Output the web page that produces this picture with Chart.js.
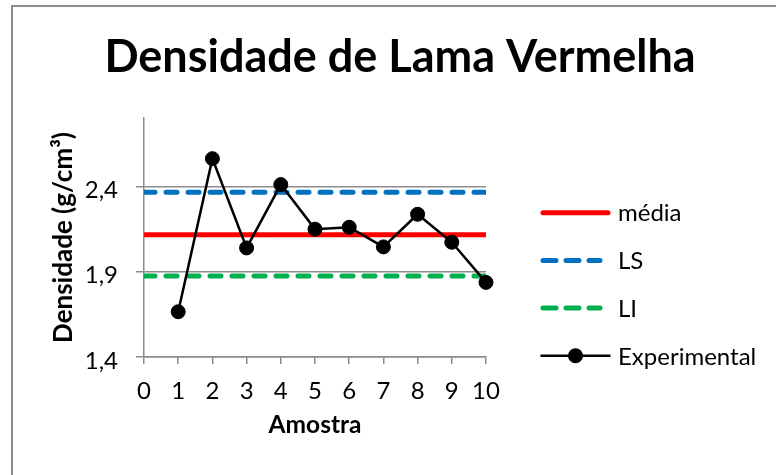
<!DOCTYPE html>
<html><head><meta charset="utf-8">
<script src="https://cdn.jsdelivr.net/npm/chart.js@4.4.1/dist/chart.umd.min.js"></script>
<style>
html,body{margin:0;padding:0;background:#fff;}
#wrap{position:relative;width:776px;height:475px;overflow:hidden;}
#frame{position:absolute;left:11px;top:5px;width:800px;height:500px;border-top:2px solid #8c8c8c;border-left:2px solid #8c8c8c;pointer-events:none;}
canvas{position:absolute;left:0;top:0;}
</style></head><body>
<div id="wrap"><canvas id="c" width="776" height="475"></canvas><div id="frame"></div></div>
<script>
const chartTitle = 'Densidade de Lama Vermelha';
const xAxisTitle = 'Amostra';
const yAxisTitle = 'Densidade (g/cm³)';
const amostras = [1, 2, 3, 4, 5, 6, 7, 8, 9, 10];
const experimental = [1.665, 2.562, 2.039, 2.41, 2.149, 2.16, 2.045, 2.236, 2.072, 1.837];
const limitX = [0, 10];
const media = [2.116, 2.116];
const ls = [2.365, 2.365];
const li = [1.874, 1.874];
const xTicks = [0, 1, 2, 3, 4, 5, 6, 7, 8, 9, 10];
const yTicks = [1.4, 1.9, 2.4];
const legendLabels = ['média', 'LS', 'LI', 'Experimental'];

const FONT = 'Lato';
const GRAY = '#8c8c8c';

const pts = (xs, ys) => xs.map((x, i) => ({x: x, y: ys[i]}));

const datasets = [
  {label: legendLabels[3], data: pts(amostras, experimental), borderColor: '#000', backgroundColor: '#000',
   borderWidth: 2.5, pointRadius: 7, pointBorderWidth: 1, pointBackgroundColor: '#000', pointBorderColor: '#000',
   order: 0, clip: false},
  {label: legendLabels[0], data: pts(limitX, media), borderColor: '#ff0000', borderWidth: 5, pointRadius: 0, order: 1},
  {label: legendLabels[1], data: pts(limitX, ls), borderColor: '#0070c0', borderWidth: 5, pointRadius: 0,
   borderDash: [11, 11], borderCapStyle: 'round', order: 2},
  {label: legendLabels[2], data: pts(limitX, li), borderColor: '#00b050', borderWidth: 5, pointRadius: 0,
   borderDash: [11, 11], borderCapStyle: 'round', order: 3}
];

const decor = {
  id: 'decor',
  afterDraw(chart) {
    const {ctx, chartArea: a} = chart;
    ctx.save();
    ctx.fillStyle = '#000';
    ctx.font = 'bold 45px ' + FONT;
    ctx.textAlign = 'center';
    ctx.textBaseline = 'alphabetic';
    ctx.fillText(chartTitle, 400, 72);

    const order = [1, 2, 3, 0];
    const x0 = a.right + 54.5, x1 = a.right + 124.5, tx = a.right + 132;
    order.forEach((di, k) => {
      const ds = chart.data.datasets[di];
      const y = a.top + 94.7 + k * 47.7;
      ctx.save();
      ctx.strokeStyle = ds.borderColor;
      ctx.lineWidth = ds.borderWidth;
      ctx.beginPath();
      if (ds.borderDash) {
        ctx.lineCap = 'round';
        ctx.setLineDash([13, 10]);
        ctx.moveTo(x0 + 2.5, y); ctx.lineTo(x0 + 59.5, y);
      } else if (di === 0) {
        ctx.moveTo(x0, y); ctx.lineTo(x1, y);
      } else {
        ctx.lineCap = 'round';
        ctx.moveTo(x0 + 2.5, y); ctx.lineTo(x1 - 2.5, y);
      }
      ctx.stroke();
      if (di === 0) {
        ctx.beginPath();
        ctx.arc((x0 + x1) / 2, y, 7.5, 0, Math.PI * 2);
        ctx.fillStyle = '#000';
        ctx.fill();
      }
      ctx.restore();
      ctx.fillStyle = '#000';
      ctx.font = '24px ' + FONT;
      ctx.textAlign = 'left';
      ctx.textBaseline = 'middle';
      ctx.fillText(ds.label, tx, y + 1);
    });
    ctx.restore();
  }
};

new Chart(document.getElementById('c'), {
  type: 'line',
  data: {datasets: datasets},
  plugins: [decor],
  options: {
    responsive: false,
    animation: false,
    devicePixelRatio: 1,
    layout: {padding: {left: 0, top: 118, right: 290, bottom: 0}},
    plugins: {legend: {display: false}, title: {display: false}, tooltip: {enabled: false}},
    scales: {
      x: {
        type: 'linear', min: 0, max: 10,
        afterBuildTicks: s => { s.ticks = xTicks.map(v => ({value: v})); },
        afterFit: s => { s.height = 118; },
        ticks: {color: '#000', font: {family: FONT, size: 24}, padding: 13, callback: v => String(v), maxRotation: 0, autoSkip: false},
        grid: {drawOnChartArea: false, drawTicks: true, tickLength: 7, color: GRAY, lineWidth: 1.5},
        border: {color: GRAY, width: 1.5},
        title: {display: true, text: xAxisTitle, color: '#000', font: {family: FONT, size: 24.5, weight: 'bold'}, padding: {top: 0, bottom: 35}}
      },
      y: {
        type: 'linear', min: 1.4, max: 2.8,
        afterBuildTicks: s => { s.ticks = yTicks.map(v => ({value: v})); },
        afterFit: s => { s.width = 144; },
        ticks: {color: '#000', font: {family: FONT, size: 24}, padding: 18, labelOffset: 4, callback: v => v.toFixed(1).replace('.', ',')},
        grid: {color: GRAY, lineWidth: 1.5, tickLength: 8},
        border: {color: GRAY, width: 1.5},
        title: {display: true, text: yAxisTitle, color: '#000', font: {family: FONT, size: 26, weight: 'bold'}, padding: {top: 48.5, bottom: 0}}
      }
    }
  }
});
</script>
</body></html>
